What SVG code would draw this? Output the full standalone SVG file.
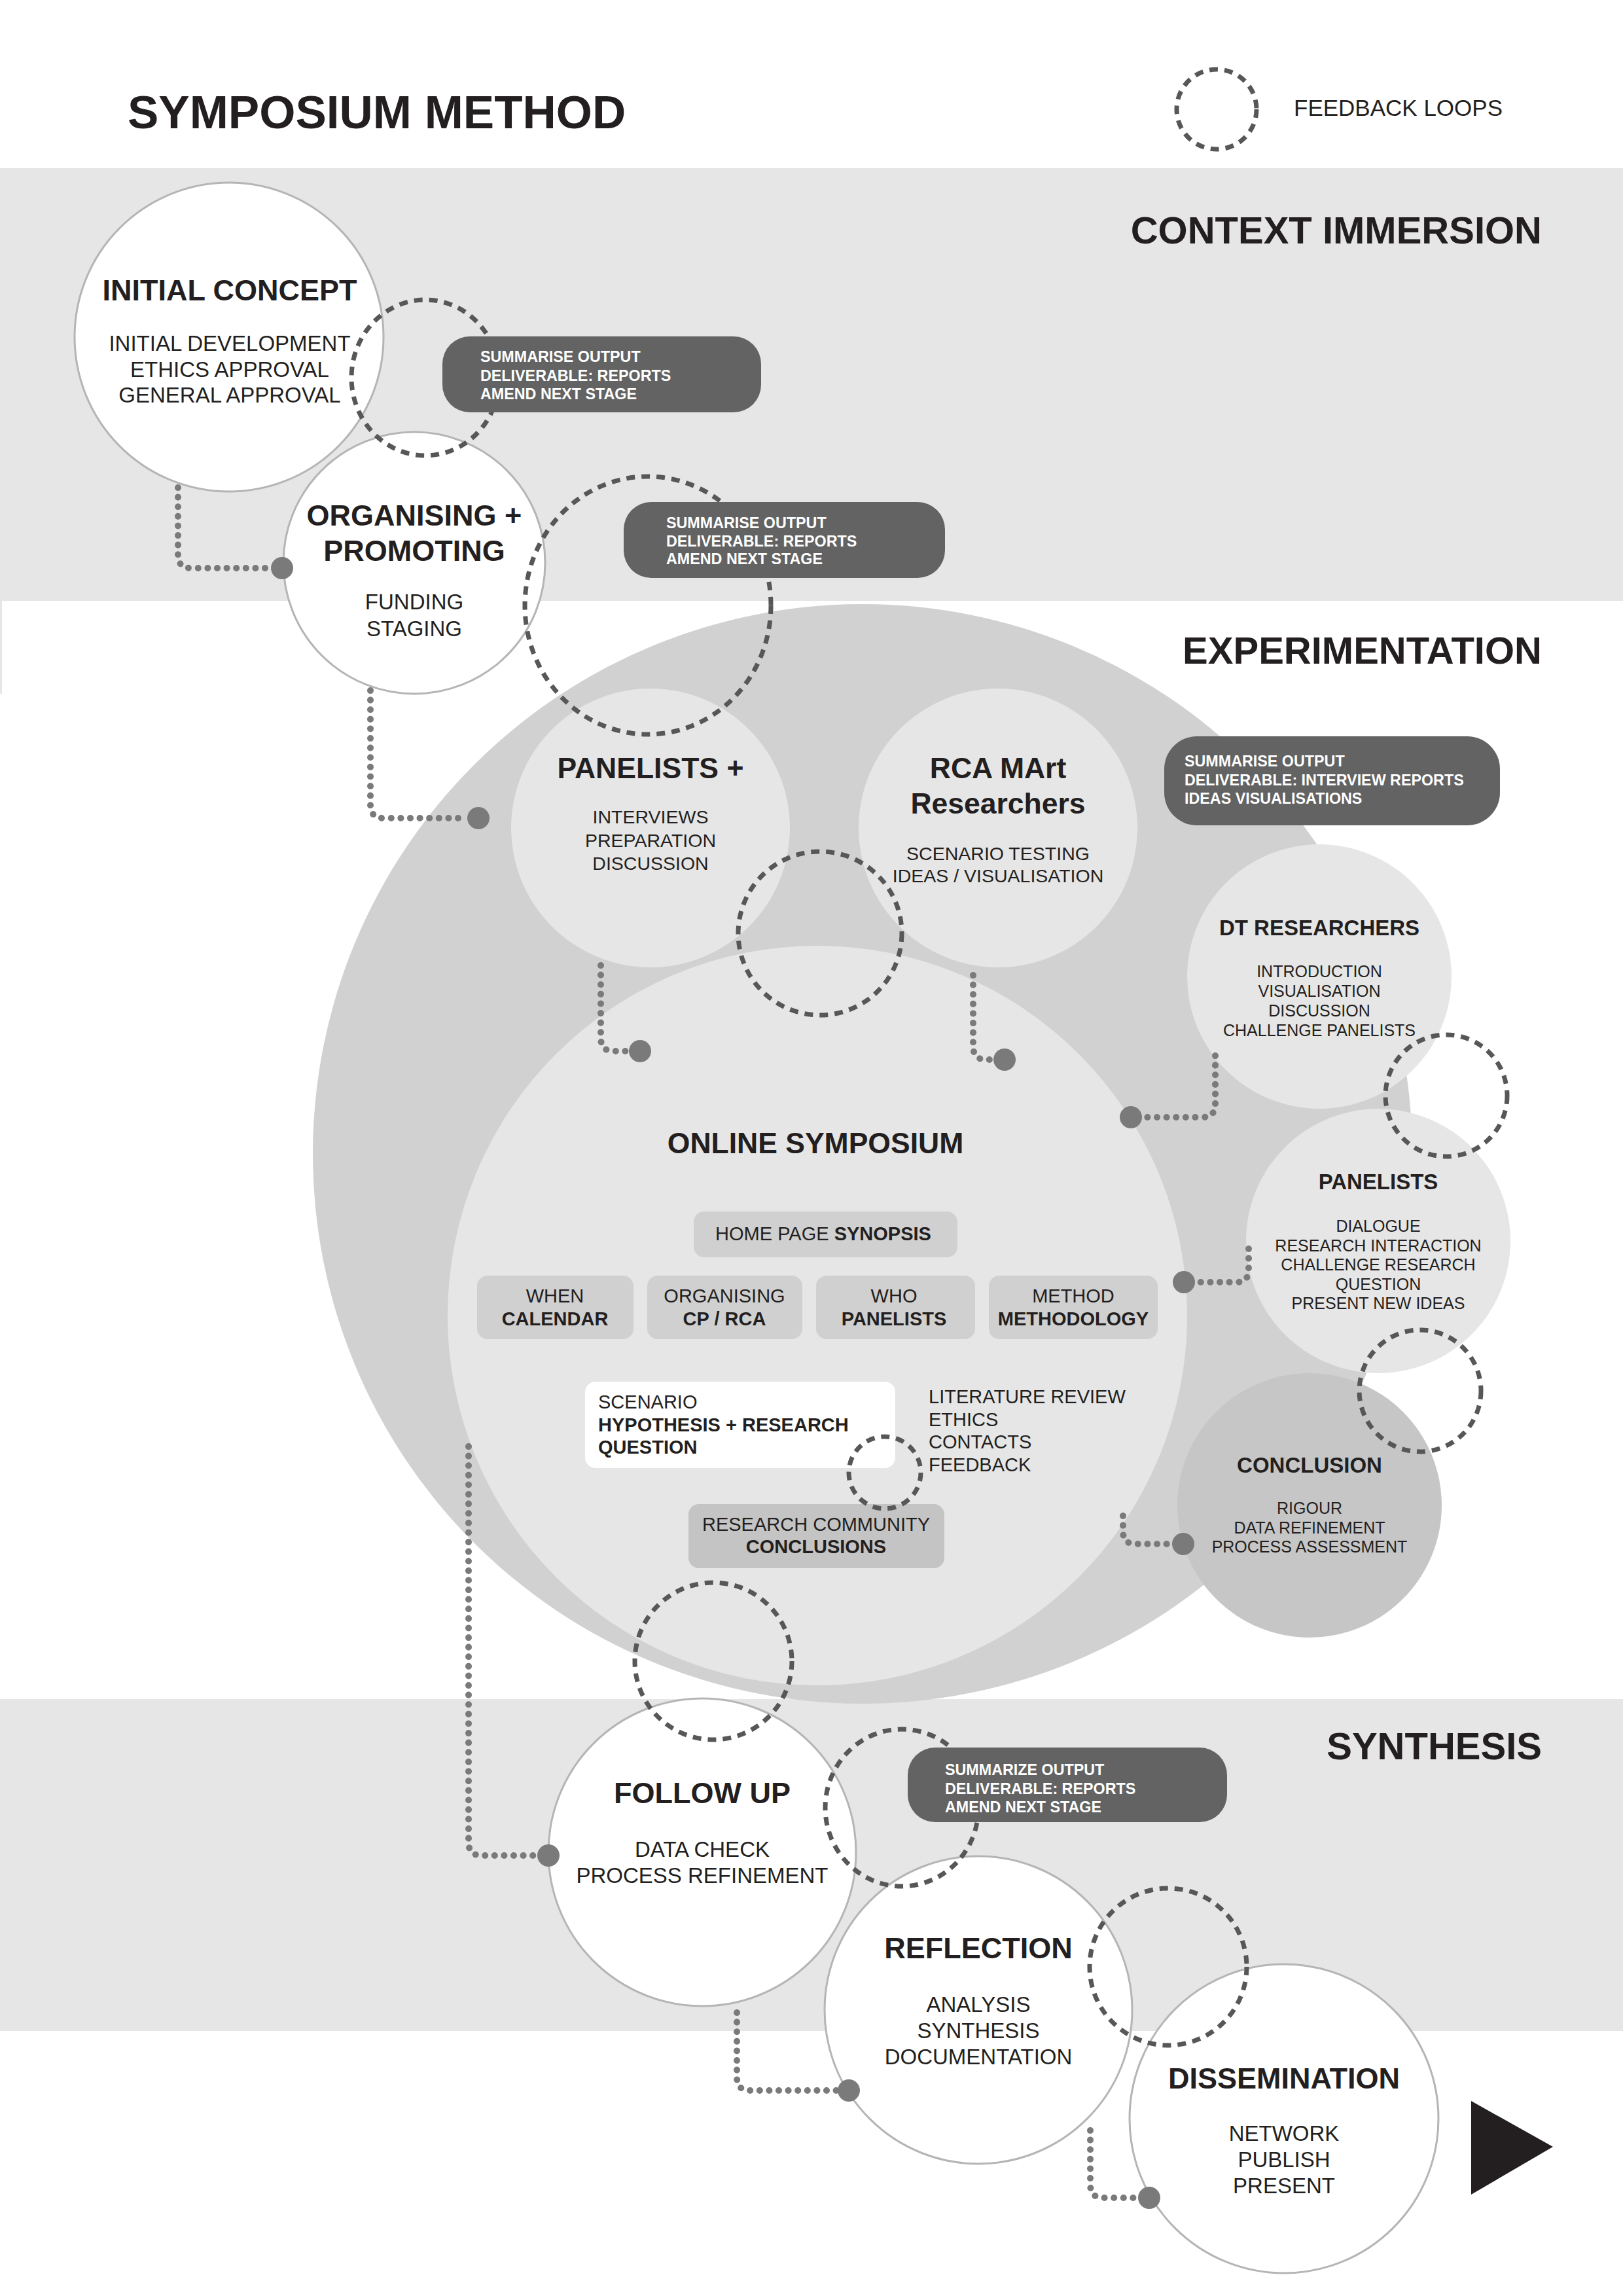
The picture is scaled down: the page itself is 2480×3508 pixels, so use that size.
<svg xmlns="http://www.w3.org/2000/svg" width="2480" height="3508" viewBox="0 0 2480 3508">
<defs>
<style>
text{font-family:"Liberation Sans",Arial,Helvetica,sans-serif;fill:#231f20}
.band{fill:#e6e6e6}
.node{fill:#fff;stroke:#b5b5b5;stroke-width:3}
.sub{fill:#e6e6e6}
.concl{fill:#c6c6c6}
.fb{fill:none;stroke:#575757;stroke-width:7;stroke-dasharray:13 10}
.out{fill:#636363}
.outt{font-weight:bold;font-size:23.3px;fill:#fff}
.conn{fill:none;stroke:#7a7a7a;stroke-width:10;stroke-linecap:round;stroke-dasharray:0.1 14.5}
.dot{fill:#7a7a7a}
.tab{fill:#d0d0d0}
.sec{font-weight:bold;font-size:58px;text-anchor:end}
.h1{font-weight:bold;font-size:45px;text-anchor:middle}
.l1{font-size:33px;text-anchor:middle}
.h2{font-weight:bold;font-size:33px;text-anchor:middle}
.l2{font-size:25px;text-anchor:middle}
.h3{font-weight:bold;font-size:44.5px;text-anchor:middle}
.l3{font-size:28.5px;text-anchor:middle}
.t{font-size:29px;text-anchor:middle}
.tl{font-size:29px}
.b{font-weight:bold}
</style>
</defs>
<rect width="2480" height="3508" fill="#fff"/>
<g id="bands">
<rect class="band" x="0" y="257" width="2480" height="661"/>
<rect class="band" x="0" y="917" width="3" height="143"/>
<rect class="band" x="0" y="2596" width="2480" height="507"/>
</g>
<g id="title">
<text x="195" y="196" font-size="71" font-weight="bold">SYMPOSIUM METHOD</text>
</g>
<g id="legend">
<circle class="fb" cx="1859" cy="167" r="61"/>
<text x="1977" y="177" font-size="35">FEEDBACK LOOPS</text>
</g>
<g id="section-labels">
<text class="sec" x="2356" y="372">CONTEXT IMMERSION</text>
<text class="sec" x="2356" y="1014">EXPERIMENTATION</text>
<text class="sec" x="2356" y="2688">SYNTHESIS</text>
</g>
<g id="experimentation-area">
<circle cx="1318" cy="1763" r="840" fill="#d1d1d1"/>
</g>
<g id="online-symposium">
<circle class="sub" cx="1249" cy="2010" r="565"/>
<text class="h3" x="1246" y="1762" font-size="48">ONLINE SYMPOSIUM</text>
<rect class="tab" x="1060" y="1851" width="403" height="70" rx="16"/>
<text class="t" x="1258" y="1895" font-size="31">HOME PAGE <tspan class="b">SYNOPSIS</tspan></text>
<rect class="tab" x="729" y="1949" width="239" height="97" rx="16"/>
<text class="t" x="848" y="1990">WHEN</text>
<text class="t b" x="848" y="2025">CALENDAR</text>
<rect class="tab" x="989" y="1949" width="237" height="97" rx="16"/>
<text class="t" x="1107" y="1990">ORGANISING</text>
<text class="t b" x="1107" y="2025">CP / RCA</text>
<rect class="tab" x="1247" y="1949" width="243" height="97" rx="16"/>
<text class="t" x="1366" y="1990">WHO</text>
<text class="t b" x="1366" y="2025">PANELISTS</text>
<rect class="tab" x="1511" y="1949" width="258" height="97" rx="16"/>
<text class="t" x="1640" y="1990">METHOD</text>
<text class="t b" x="1640" y="2025">METHODOLOGY</text>
<rect x="894" y="2111" width="474" height="132" rx="16" fill="#fff"/>
<text class="tl" x="914" y="2152">SCENARIO</text>
<text class="tl b" x="914" y="2187">HYPOTHESIS + RESEARCH</text>
<text class="tl b" x="914" y="2221">QUESTION</text>
<text class="tl" x="1419" y="2144">LITERATURE REVIEW</text>
<text class="tl" x="1419" y="2179">ETHICS</text>
<text class="tl" x="1419" y="2213">CONTACTS</text>
<text class="tl" x="1419" y="2248">FEEDBACK</text>
<rect x="1052" y="2298" width="391" height="98" rx="16" fill="#c4c4c4"/>
<text class="t" x="1247" y="2339">RESEARCH COMMUNITY</text>
<text class="t b" x="1247" y="2373">CONCLUSIONS</text>
</g>
<g id="initial-concept">
<circle class="node" cx="350" cy="515" r="236"/>
<text class="h1" x="351" y="459" font-size="44">INITIAL CONCEPT</text>
<text class="l1" x="351" y="536">INITIAL DEVELOPMENT</text>
<text class="l1" x="351" y="576">ETHICS APPROVAL</text>
<text class="l1" x="351" y="615">GENERAL APPROVAL</text>
</g>
<g id="organising-promoting">
<circle class="node" cx="633" cy="860" r="200"/>
<text class="h1" x="633" y="803" font-size="46">ORGANISING +</text>
<text class="h1" x="633" y="857" font-size="46">PROMOTING</text>
<text class="l1" x="633" y="931">FUNDING</text>
<text class="l1" x="633" y="972">STAGING</text>
</g>
<g id="panelists-plus">
<circle class="sub" cx="994" cy="1265" r="213"/>
<text class="h3" x="994" y="1189">PANELISTS +</text>
<text class="l3" x="994" y="1258">INTERVIEWS</text>
<text class="l3" x="994" y="1294">PREPARATION</text>
<text class="l3" x="994" y="1329">DISCUSSION</text>
</g>
<g id="rca-mart-researchers">
<circle class="sub" cx="1525" cy="1265" r="213"/>
<text class="h3" x="1525" y="1189">RCA MArt</text>
<text class="h3" x="1525" y="1243">Researchers</text>
<text class="l3" x="1525" y="1314">SCENARIO TESTING</text>
<text class="l3" x="1525" y="1348">IDEAS / VISUALISATION</text>
</g>
<g id="dt-researchers">
<circle class="sub" cx="2016" cy="1492" r="202"/>
<text class="h2" x="2016" y="1429">DT RESEARCHERS</text>
<text class="l2" x="2016" y="1493">INTRODUCTION</text>
<text class="l2" x="2016" y="1523">VISUALISATION</text>
<text class="l2" x="2016" y="1553">DISCUSSION</text>
<text class="l2" x="2016" y="1583">CHALLENGE PANELISTS</text>
</g>
<g id="panelists">
<circle class="sub" cx="2106" cy="1896" r="202"/>
<text class="h2" x="2106" y="1817">PANELISTS</text>
<text class="l2" x="2106" y="1882">DIALOGUE</text>
<text class="l2" x="2106" y="1912">RESEARCH INTERACTION</text>
<text class="l2" x="2106" y="1941">CHALLENGE RESEARCH</text>
<text class="l2" x="2106" y="1971">QUESTION</text>
<text class="l2" x="2106" y="2000">PRESENT NEW IDEAS</text>
</g>
<g id="conclusion">
<circle class="concl" cx="2001" cy="2300" r="202"/>
<text class="h2" x="2001" y="2250">CONCLUSION</text>
<text class="l2" x="2001" y="2313">RIGOUR</text>
<text class="l2" x="2001" y="2343">DATA REFINEMENT</text>
<text class="l2" x="2001" y="2372">PROCESS ASSESSMENT</text>
</g>
<g id="follow-up">
<circle class="node" cx="1073" cy="2830" r="235"/>
<text class="h1" x="1073" y="2755">FOLLOW UP</text>
<text class="l1" x="1073" y="2837">DATA CHECK</text>
<text class="l1" x="1073" y="2877">PROCESS REFINEMENT</text>
</g>
<g id="reflection">
<circle class="node" cx="1495" cy="3071" r="235"/>
<text class="h1" x="1495" y="2992">REFLECTION</text>
<text class="l1" x="1495" y="3074">ANALYSIS</text>
<text class="l1" x="1495" y="3114">SYNTHESIS</text>
<text class="l1" x="1495" y="3154">DOCUMENTATION</text>
</g>
<g id="dissemination">
<circle class="node" cx="1962" cy="3237" r="236"/>
<text class="h1" x="1962" y="3191" font-size="44">DISSEMINATION</text>
<text class="l1" x="1962" y="3271">NETWORK</text>
<text class="l1" x="1962" y="3311">PUBLISH</text>
<text class="l1" x="1962" y="3351">PRESENT</text>
</g>
<g id="feedback-loops">
<ellipse class="fb" cx="650" cy="577" rx="113" ry="119"/>
<ellipse class="fb" cx="990" cy="925" rx="188" ry="197"/>
<circle class="fb" cx="1253" cy="1426" r="125"/>
<circle class="fb" cx="2210" cy="1674" r="93"/>
<circle class="fb" cx="2170" cy="2125" r="93"/>
<circle class="fb" cx="1352" cy="2250" r="55"/>
<circle class="fb" cx="1090" cy="2538" r="120"/>
<ellipse class="fb" cx="1378" cy="2762" rx="117" ry="120"/>
<circle class="fb" cx="1785" cy="3005" r="120"/>
</g>
<g id="output-1">
<rect class="out" x="676" y="514" width="487" height="116" rx="42"/>
<text class="outt" x="734" y="553">SUMMARISE OUTPUT</text>
<text class="outt" x="734" y="582">DELIVERABLE: REPORTS</text>
<text class="outt" x="734" y="610">AMEND NEXT STAGE</text>
</g>
<g id="output-2">
<rect class="out" x="953" y="767" width="491" height="116" rx="42"/>
<text class="outt" x="1018" y="807">SUMMARISE OUTPUT</text>
<text class="outt" x="1018" y="835">DELIVERABLE: REPORTS</text>
<text class="outt" x="1018" y="862">AMEND NEXT STAGE</text>
</g>
<g id="output-3">
<rect class="out" x="1779" y="1125" width="513" height="136" rx="50"/>
<text class="outt" x="1810" y="1171">SUMMARISE OUTPUT</text>
<text class="outt" x="1810" y="1200">DELIVERABLE: INTERVIEW REPORTS</text>
<text class="outt" x="1810" y="1228">IDEAS VISUALISATIONS</text>
</g>
<g id="output-4">
<rect class="out" x="1387" y="2670" width="488" height="114" rx="42"/>
<text class="outt" x="1444" y="2712">SUMMARIZE OUTPUT</text>
<text class="outt" x="1444" y="2741">DELIVERABLE: REPORTS</text>
<text class="outt" x="1444" y="2769">AMEND NEXT STAGE</text>
</g>
<g id="connectors">
<path class="conn" d="M272,745 V848 Q272,868 292,868 H414"/>
<circle class="dot" cx="431" cy="868" r="17"/>
<path class="conn" d="M566,1055 V1230 Q566,1250 586,1250 H714"/>
<circle class="dot" cx="731" cy="1250" r="17"/>
<path class="conn" d="M918,1475 V1586 Q918,1606 938,1606 H962"/>
<circle class="dot" cx="978" cy="1606" r="17"/>
<path class="conn" d="M1487,1490 V1599 Q1487,1619 1507,1619 H1518"/>
<circle class="dot" cx="1535" cy="1619" r="17"/>
<path class="conn" d="M1857,1613 V1687 Q1857,1707 1837,1707 H1745"/>
<circle class="dot" cx="1728" cy="1707" r="17"/>
<path class="conn" d="M1908,1908 V1940 Q1908,1959 1889,1959 H1826"/>
<circle class="dot" cx="1809" cy="1959" r="17"/>
<path class="conn" d="M1716,2316 V2340 Q1716,2359 1735,2359 H1791"/>
<circle class="dot" cx="1808" cy="2359" r="17"/>
<path class="conn" d="M716,2210 V2815 Q716,2835 736,2835 H821"/>
<circle class="dot" cx="838" cy="2835" r="17"/>
<path class="conn" d="M1126,3075 V3174 Q1126,3194 1146,3194 H1280"/>
<circle class="dot" cx="1297" cy="3194" r="17"/>
<path class="conn" d="M1666,3255 V3338 Q1666,3358 1686,3358 H1739"/>
<circle class="dot" cx="1756" cy="3358" r="17"/>
</g>
<g id="direction-arrow">
<polygon points="2248,3210 2373,3280 2248,3353" fill="#231f20"/>
</g>
</svg>
